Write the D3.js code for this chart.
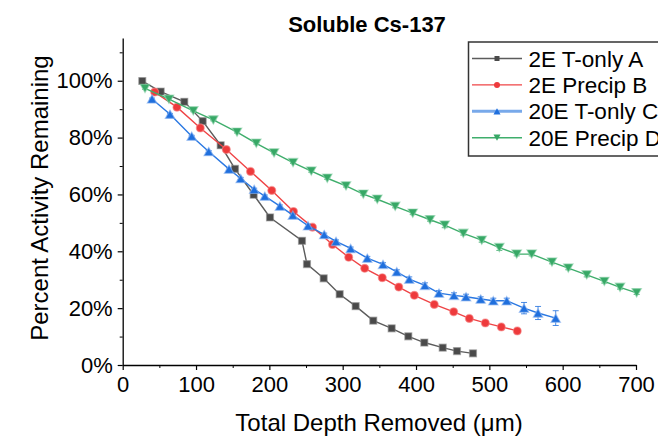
<!DOCTYPE html>
<html><head><meta charset="utf-8">
<script src="https://cdn.jsdelivr.net/npm/d3@7"></script>
<style>
body{margin:0;background:#fff}
svg{display:block}
text{font-family:"Liberation Sans",Arial,Helvetica,sans-serif;fill:#000}
</style>
</head><body>
<svg id="c" width="658" height="438"></svg>
<script>
// ---- data ----
const title = "Soluble Cs-137";
const xLabel = "Total Depth Removed (\u03bcm)";
const yLabel = "Percent Activity Remaining";
const seriesNames = ["2E T-only A", "2E Precip B", "20E T-only C", "20E Precip D"];

const aX = [26.7,51.8,84.0,109.1,133.6,153.1,178.6,200.9,244.5,251.3,274.1,295.9,317.7,341.7,366.8,389.5,411.3,436.4,455.9,477.7];
const aY = [99.9,96.2,92.6,85.8,77.3,69.0,59.9,51.9,43.7,35.5,30.5,24.9,20.7,15.6,12.9,10.1,7.9,6.1,4.9,4.1];

const bX = [43.6,74.0,105.8,141.3,174.3,203.3,232.9,258.8,286.1,308.2,330.0,354.0,376.5,397.7,424.9,451.4,472.7,494.5,516.3,538.1];
const bY = [96.0,90.7,83.4,75.8,68.1,61.4,54.0,48.5,42.4,37.9,34.0,30.7,27.4,24.5,21.3,18.7,16.4,14.8,13.4,12.0];

const cX = [40.0,64.5,94.1,117.3,145.0,160.9,179.3,193.8,214.4,232.0,252.7,274.8,290.9,310.9,333.6,355.0,373.8,390.8,412.2,431.3,451.8,468.2,488.2,505.4,523.7,547.3,566.4,590.5];
const cY = [93.6,88.2,80.5,75.1,68.9,65.6,61.8,59.4,55.9,52.7,49.0,45.9,43.5,41.0,37.6,35.4,32.8,30.2,28.0,25.3,24.5,24.0,23.2,22.6,22.6,20.0,18.3,16.5];
const cErr = [0.3,0.3,0.3,0.3,0.4,0.4,0.4,0.4,0.4,0.4,0.5,0.5,0.5,0.5,0.6,0.6,0.7,0.8,0.9,0.9,0.9,0.9,0.8,0.9,0.9,2.0,2.3,2.6];

const dX = [30.4,63.1,96.3,123.6,155.9,182.2,206.4,232.3,257.2,279.0,304.5,328.1,347.2,371.6,395.5,419.1,439.2,464.5,489.6,513.6,537.3,557.7,585.4,607.7,632.8,656.8,678.2,700.9];
const dY = [97.3,93.5,89.4,86.2,81.9,78.0,74.6,71.2,68.2,65.7,63.0,60.1,58.3,55.8,53.4,51.1,49.2,46.3,43.9,41.3,39.0,39.0,36.2,34.1,31.7,29.4,27.3,25.4];
const dErr = [0.3,0.3,0.3,0.3,0.3,0.3,0.3,0.3,0.4,0.4,0.4,0.4,0.5,0.5,0.5,0.5,0.9,0.6,0.7,1.0,0.6,0.6,0.6,0.6,0.7,0.6,0.6,0.6];

const xTicks = [0,100,200,300,400,500,600,700];
const xMinor = [50,150,250,350,450,550,650];
const yTicks = [0,20,40,60,80,100];
const yMinor = [10,30,50,70,90,110];

// ---- drawing ----
const svg = d3.select("#c");
const x = d3.scaleLinear([0,700],[122.7,636]);
const y = d3.scaleLinear([0,115],[365,38.1]);

const styles = [
  {color:"#4a4a4a", line:"#5c5c5c", shape:"square", halo:"rgba(140,140,140,0.55)"},
  {color:"#ee3a3c", line:"#ef4446", shape:"circle", halo:"rgba(245,140,140,0.55)"},
  {color:"#1f6fdd", line:"#2a78e2", shape:"up", halo:"rgba(140,180,240,0.6)"},
  {color:"#37a866", line:"#3fae6c", shape:"down", halo:"rgba(140,210,170,0.6)"}
];
const data = [
  aX.map((v,i)=>({x:v,y:aY[i],e:0})),
  bX.map((v,i)=>({x:v,y:bY[i],e:0})),
  cX.map((v,i)=>({x:v,y:cY[i],e:cErr[i]})),
  dX.map((v,i)=>({x:v,y:dY[i],e:dErr[i]}))
];

function markerPath(shape, s){
  if(shape==="square") return `M${-s/2},${-s/2}h${s}v${s}h${-s}Z`;
  if(shape==="circle") return `M${-s/2},0a${s/2},${s/2} 0 1,0 ${s},0a${s/2},${s/2} 0 1,0 ${-s},0Z`;
  const h = s*0.88;
  if(shape==="up") return `M0,${-h/2}L${s/2},${h/2}L${-s/2},${h/2}Z`;
  return `M0,${h/2}L${s/2},${-h/2}L${-s/2},${-h/2}Z`;
}
const mSize = {square:7, circle:8, up:9.5, down:9.5};

// axes
const gx = svg.append("g").attr("transform","translate(0,365)");
gx.call(d3.axisBottom(x).tickValues(xTicks).tickSize(5).tickSizeOuter(0).tickPadding(6.5).tickFormat(d3.format("d")));
gx.select(".domain").attr("stroke","#000").attr("stroke-width",1.3);
gx.selectAll(".tick line").attr("stroke-width",1.2);
gx.selectAll(".tick text").style("font-size","22px").attr("font-family",null);
const gxm = svg.append("g").attr("transform","translate(0,365)");
gxm.call(d3.axisBottom(x).tickValues(xMinor).tickSize(3).tickSizeOuter(0).tickFormat(""));
gxm.select(".domain").remove();

const gy = svg.append("g").attr("transform","translate(122.7,0)");
gy.call(d3.axisLeft(y).tickValues(yTicks).tickSize(5).tickSizeOuter(0).tickPadding(5).tickFormat(d=>d+"%"));
gy.select(".domain").attr("stroke","#000").attr("stroke-width",1.3);
gy.selectAll(".tick line").attr("stroke-width",1.2);
gy.selectAll(".tick text").style("font-size","22px").attr("font-family",null);
const gym = svg.append("g").attr("transform","translate(122.7,0)");
gym.call(d3.axisLeft(y).tickValues(yMinor).tickSize(3).tickSizeOuter(0).tickFormat(""));
gym.select(".domain").remove();

// series
const line = d3.line().x(d=>x(d.x)).y(d=>y(d.y));
data.forEach((ser,k)=>{
  const st = styles[k];
  const g = svg.append("g");
  g.append("path").datum(ser).attr("d",line).attr("fill","none")
    .attr("stroke",st.line).attr("stroke-width",1.4);
  const eb = ser.filter(d=>d.e>0);
  g.selectAll(".eb").data(eb).join("path")
    .attr("d",d=>{const x0=x(d.x),y1=y(d.y+d.e),y2=y(d.y-d.e);
      return `M${x0},${y1}V${y2}M${x0-3},${y1}h6M${x0-3},${y2}h6`;})
    .attr("stroke",st.color).attr("stroke-width",1).attr("fill","none").attr("opacity",0.8);
  g.selectAll(".m").data(ser).join("path")
    .attr("transform",d=>`translate(${x(d.x)},${y(d.y)})`)
    .attr("d",markerPath(st.shape,mSize[st.shape]))
    .attr("fill",st.color).attr("stroke",st.halo).attr("stroke-width",1.2);
});

// title & labels
svg.append("text").attr("x",367).attr("y",32).attr("text-anchor","middle")
  .style("font-size","22px").style("font-weight","bold").text(title);
svg.append("text").attr("x",379).attr("y",431).attr("text-anchor","middle")
  .style("font-size","24px").text(xLabel);
svg.append("text").attr("transform","translate(48,198) rotate(-90)").attr("text-anchor","middle")
  .style("font-size","24px").text(yLabel);

// legend
const lg = svg.append("g");
lg.append("rect").attr("x",468.5).attr("y",42).attr("width",260).attr("height",114)
  .attr("fill","#fff").attr("stroke","#333").attr("stroke-width",1.5);
const lgSize = {square:5, circle:6, up:7, down:7};
seriesNames.forEach((name,i)=>{
  const cy = 58.5 + i*26.4;
  const st = styles[i];
  lg.append("line").attr("x1",472).attr("x2",522).attr("y1",cy).attr("y2",cy)
    .attr("stroke", i===2 ? "#78a9ea" : st.line).attr("stroke-width", i===2 ? 3 : 1.4);
  lg.append("path").attr("transform",`translate(497,${cy})`).attr("d",markerPath(st.shape,lgSize[st.shape]))
    .attr("fill",st.color);
  lg.append("text").attr("x",528.5).attr("y",cy+8).style("font-size","22.5px").text(name);
});
</script>
</body></html>
